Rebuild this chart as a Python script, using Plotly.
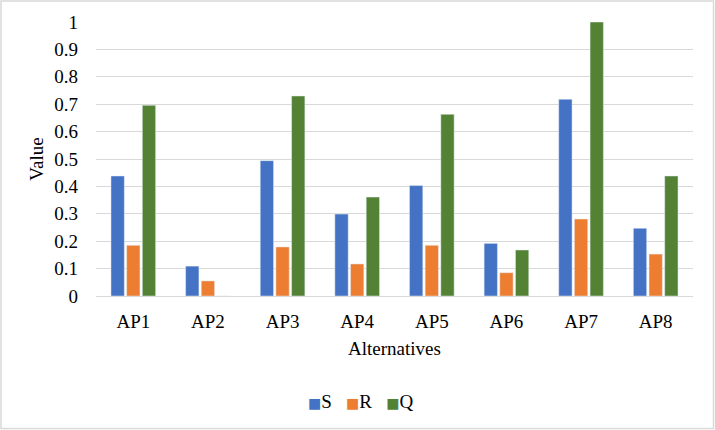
import plotly.graph_objects as go

categories = ["AP1", "AP2", "AP3", "AP4", "AP5", "AP6", "AP7", "AP8"]
series_names = ["S", "R", "Q"]
series_colors = ["#4472C4", "#ED7D31", "#548235"]
s_values = [0.438, 0.109, 0.494, 0.299, 0.403, 0.192, 0.718, 0.247]
r_values = [0.185, 0.055, 0.179, 0.117, 0.185, 0.085, 0.281, 0.153]
q_values = [0.696, 0.0, 0.730, 0.361, 0.663, 0.168, 1.0, 0.438]
y_ticks = [0, 0.1, 0.2, 0.3, 0.4, 0.5, 0.6, 0.7, 0.8, 0.9, 1]
y_tick_text = ["0", "0.1", "0.2", "0.3", "0.4", "0.5", "0.6", "0.7", "0.8", "0.9", "1"]

FONT = "Times New Roman, Liberation Serif, serif"
FS = 19
W, H = 715, 430
ML, MR, MT, MB = 96, 22, 22, 134

fig = go.Figure()
for name, color, vals in zip(series_names, series_colors, [s_values, r_values, q_values]):
    fig.add_trace(go.Bar(name=name, x=categories, y=vals, marker_color=color,
                         showlegend=False))

pw = W - ML - MR
ph = H - MT - MB
fig.add_shape(type="rect", xref="paper", yref="paper",
              x0=(-ML + 1) / pw, x1=1 + (MR - 1.5) / pw,
              y0=(-MB + 1.5) / ph, y1=1 + (MT - 1) / ph,
              line=dict(color="#D9D9D9", width=1.5), fillcolor="rgba(0,0,0,0)",
              layer="below")

# legend drawn as real text with coloured square glyphs
legend_parts = []
for name, color in zip(series_names, series_colors):
    legend_parts.append(
        f'<span style="color:{color};font-size:14px;font-family:DejaVu Sans">■</span>{name}')
legend_text = "&nbsp;&nbsp;&nbsp;".join(legend_parts)
fig.add_annotation(text=legend_text, xref="paper", yref="paper",
                   x=(360 - ML) / pw, y=-(401 - MT - ph) / ph,
                   xanchor="center", yanchor="middle", showarrow=False,
                   font=dict(family=FONT, size=FS, color="black"))

fig.update_layout(
    width=W, height=H,
    margin=dict(l=ML, r=MR, t=MT, b=MB, pad=0),
    paper_bgcolor="white", plot_bgcolor="white",
    font=dict(family=FONT, size=FS, color="black"),
    barmode="group", bargap=0.37, bargroupgap=0.15,
    showlegend=False,
    xaxis=dict(showgrid=False, showline=False, zeroline=False, ticks="",
               automargin=False, ticklabelstandoff=12,
               tickfont=dict(family=FONT, size=FS, color="black"),
               title=dict(text="Alternatives", standoff=10,
                          font=dict(family=FONT, size=FS, color="black"))),
    yaxis=dict(range=[0, 1.0], tickvals=y_ticks, ticktext=y_tick_text,
               showgrid=True, gridcolor="#D9D9D9", gridwidth=1,
               zeroline=True, zerolinecolor="#D9D9D9", zerolinewidth=1,
               showline=False, ticks="", automargin=False, ticklabelstandoff=17,
               tickfont=dict(family=FONT, size=FS, color="black"),
               title=dict(text="Value", standoff=5,
                          font=dict(family=FONT, size=FS, color="black"))),
)

fig.write_html("out.html", config={"displayModeBar": False},
               post_script="document.body.style.margin='0';")
